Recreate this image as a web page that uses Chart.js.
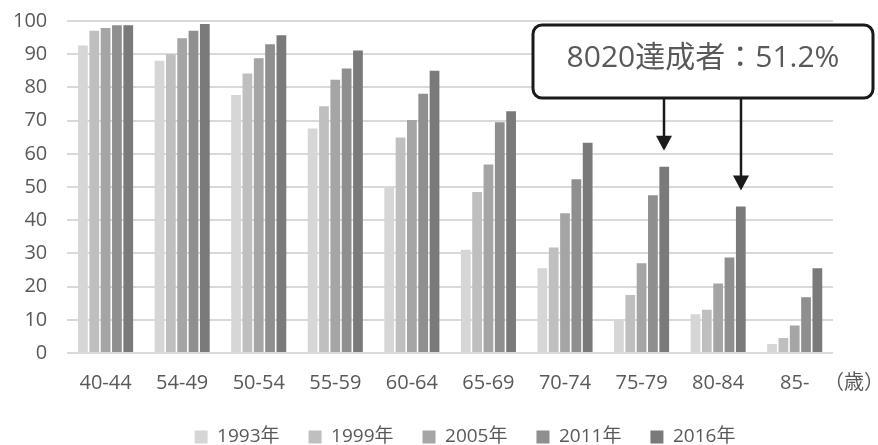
<!DOCTYPE html>
<html>
<head>
<meta charset="utf-8">
<script src="https://cdn.jsdelivr.net/npm/chart.js@4/dist/chart.umd.min.js"></script>
<style>
  html, body { margin: 0; padding: 0; background: #ffffff; }
  #wrap { width: 878px; height: 445px; position: relative; }
</style>
</head>
<body>
<div id="wrap"><canvas id="chart"></canvas></div>
<script>
// Age brackets (x axis) and survey years (series)
const ageGroups = ['40-44', '54-49', '50-54', '55-59', '60-64', '65-69', '70-74', '75-79', '80-84', '85-'];
const surveyYears = ['1993年', '1999年', '2005年', '2011年', '2016年'];

// Share of people keeping 20+ teeth (%), per age bracket
const rate1993 = [92.6, 88.0, 77.7, 67.6, 49.9, 31.1, 25.5, 10.1, 11.7, 2.7];
const rate1999 = [97.1, 90.0, 84.2, 74.3, 64.9, 48.5, 31.8, 17.5, 13.0, 4.5];
const rate2005 = [97.9, 94.8, 88.8, 82.3, 70.2, 56.8, 42.1, 27.0, 20.9, 8.3];
const rate2011 = [98.7, 97.1, 93.0, 85.7, 78.1, 69.5, 52.3, 47.5, 28.8, 16.8];
const rate2016 = [98.7, 99.1, 95.7, 91.1, 85.0, 72.8, 63.3, 56.1, 44.1, 25.5];

const yTicks = [0, 10, 20, 30, 40, 50, 60, 70, 80, 90, 100];
const unitLabel = '（歳）';
const calloutText = '8020達成者：51.2%';
// 2016 bars the callout points at (75-79 and 80-84)
const calloutTargets = [7, 8];

const seriesValues = [rate1993, rate1999, rate2005, rate2011, rate2016];
const seriesColors = ['#d6d6d6', '#bfbfbf', '#a5a5a5', '#8f8f8f', '#7a7a7a'];

const FONT = '"Open Sans", "Noto Sans CJK JP", sans-serif';
const TEXT_COLOR = '#595959';

const calloutPlugin = {
  id: 'callout',
  afterLayout(chart) {
    // place the legend row centred under the bars
    const lg = chart.legend;
    if (lg) {
      lg.left += 42; lg.right += 42;
      lg.top += 3.5; lg.bottom += 3.5;
    }
  },
  afterDraw(chart) {
    const ctx = chart.ctx;
    const area = chart.chartArea;
    const meta = chart.getDatasetMeta(seriesValues.length - 1);

    // unit label to the right of the category labels
    ctx.save();
    ctx.font = '20px "Noto Sans CJK JP", sans-serif';
    ctx.fillStyle = TEXT_COLOR;
    ctx.textAlign = 'center';
    ctx.textBaseline = 'middle';
    ctx.fillText(unitLabel, area.right + 21, 381);
    ctx.restore();

    const box = { left: 533, top: 25, right: 873, bottom: 98, r: 9 };

    // arrows from the box down to the targeted bars
    ctx.save();
    ctx.strokeStyle = '#1a1a1a';
    ctx.fillStyle = '#1a1a1a';
    ctx.lineWidth = 2.5;
    calloutTargets.forEach(i => {
      const bar = meta.data[i];
      const x = Math.round(bar.x);
      const tipY = bar.y - 16;
      const headH = 15, headW = 8;
      ctx.beginPath();
      ctx.moveTo(x, box.bottom);
      ctx.lineTo(x, tipY - headH + 1);
      ctx.stroke();
      ctx.beginPath();
      ctx.moveTo(x - headW, tipY - headH);
      ctx.lineTo(x + headW, tipY - headH);
      ctx.lineTo(x, tipY);
      ctx.closePath();
      ctx.fill();
    });
    ctx.restore();

    // rounded callout box
    ctx.save();
    ctx.beginPath();
    ctx.roundRect(box.left, box.top, box.right - box.left, box.bottom - box.top, box.r);
    ctx.fillStyle = '#ffffff';
    ctx.fill();
    ctx.lineWidth = 3;
    ctx.strokeStyle = '#1a1a1a';
    ctx.stroke();
    ctx.font = '30px ' + FONT;
    ctx.fillStyle = TEXT_COLOR;
    ctx.textAlign = 'center';
    ctx.textBaseline = 'middle';
    ctx.fillText(calloutText, (box.left + box.right) / 2, 58);
    ctx.restore();
  }
};

new Chart(document.getElementById('chart'), {
  type: 'bar',
  data: {
    labels: ageGroups,
    datasets: surveyYears.map((name, i) => ({
      label: name,
      data: seriesValues[i],
      backgroundColor: seriesColors[i],
      borderWidth: 0,
      categoryPercentage: 0.74,
      barPercentage: 0.86
    }))
  },
  options: {
    responsive: true,
    maintainAspectRatio: false,
    animation: false,
    devicePixelRatio: 1,
    layout: { padding: { top: 21, left: 13, right: 45, bottom: -8 } },
    plugins: {
      legend: {
        position: 'bottom',
        labels: {
          boxWidth: 13,
          boxHeight: 13,
          padding: 29,
          color: TEXT_COLOR,
          font: { family: FONT, size: 19 }
        }
      },
      tooltip: { enabled: false }
    },
    scales: {
      x: {
        grid: { display: false, drawTicks: false },
        border: { display: false },
        ticks: {
          color: TEXT_COLOR,
          font: { family: FONT, size: 20 },
          padding: 18,
          maxRotation: 0,
          autoSkip: false
        },
        afterFit(scale) {
          // padding only between axis and labels, none on the far side
          scale.height -= scale.options.ticks.padding;
          scale.paddingLeft = 0;
          scale.paddingRight = 0;
        }
      },
      y: {
        min: 0,
        max: 100,
        afterBuildTicks(scale) {
          scale.ticks = yTicks.map(v => ({ value: v }));
        },
        grid: { color: '#d9d9d9', lineWidth: 2, drawTicks: false },
        border: { display: false },
        ticks: {
          color: TEXT_COLOR,
          font: { family: FONT, size: 20 },
          padding: 20
        },
        afterFit(scale) {
          scale.width -= scale.options.ticks.padding;
          scale.paddingTop = 0;
          scale.paddingBottom = 0;
        }
      }
    }
  },
  plugins: [calloutPlugin]
});
</script>
</body>
</html>
